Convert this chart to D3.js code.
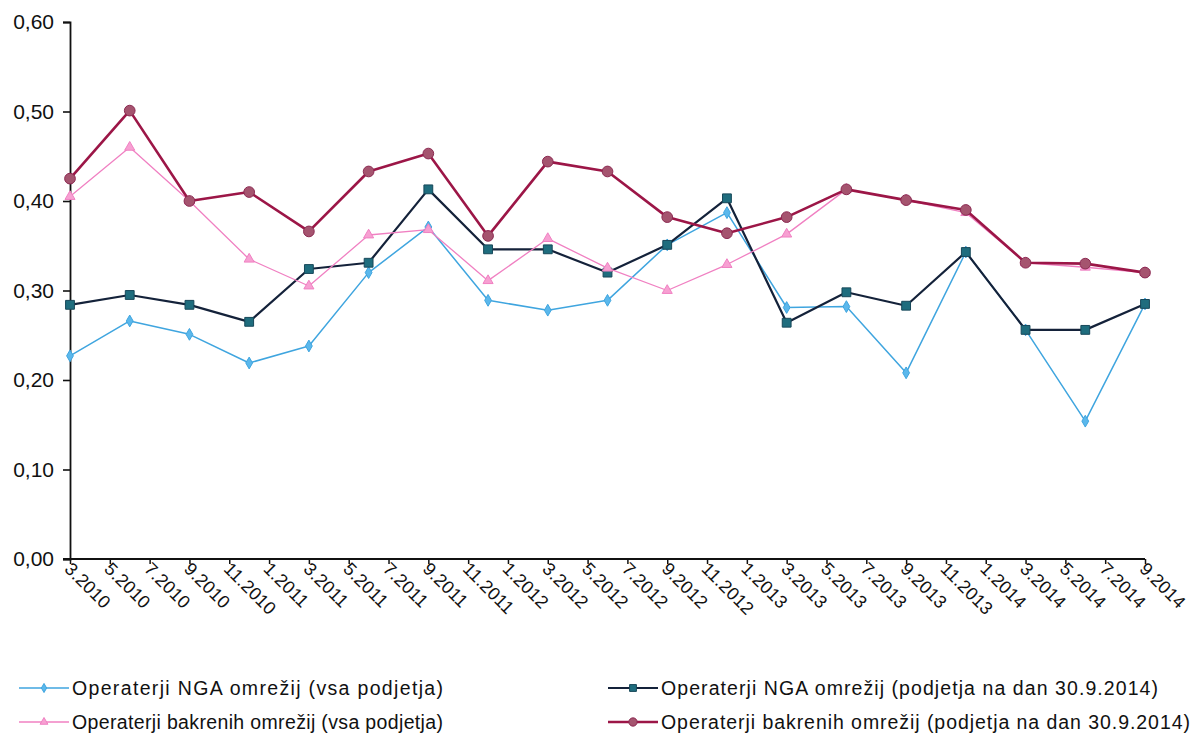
<!DOCTYPE html>
<html>
<head>
<meta charset="utf-8">
<script src="https://cdn.jsdelivr.net/npm/d3@7/dist/d3.min.js"></script>
<style>
  html, body { margin: 0; padding: 0; background: #fff; }
  svg { display: block; }
  text { font-family: "Liberation Sans", Arial, sans-serif; fill: #111; }
</style>
</head>
<body>
<svg id="chart" width="1194" height="736"></svg>
<script>
// Tick labels on the time axis (every second month)
const tickLabels = [
  "3.2010","5.2010","7.2010","9.2010","11.2010","1.2011","3.2011","5.2011",
  "7.2011","9.2011","11.2011","1.2012","3.2012","5.2012","7.2012","9.2012",
  "11.2012","1.2013","3.2013","5.2013","7.2013","9.2013","11.2013","1.2014",
  "3.2014","5.2014","7.2014","9.2014"
];

// Quarterly observation periods
const periods = [
  "3.2010","6.2010","9.2010","12.2010","3.2011","6.2011","9.2011","12.2011",
  "3.2012","6.2012","9.2012","12.2012","3.2013","6.2013","9.2013","12.2013",
  "3.2014","6.2014","9.2014"
];

// Operaterji NGA omrežij (vsa podjetja)
const ngaAll = [0.227,0.266,0.251,0.219,0.238,0.320,0.371,0.289,0.278,0.289,
                0.351,0.387,0.281,0.282,0.208,0.343,0.256,0.154,0.285];
// Operaterji NGA omrežij (podjetja na dan 30.9.2014)
const ngaCurrent = [0.284,0.295,0.284,0.265,0.324,0.331,0.413,0.346,0.346,0.320,
                    0.351,0.403,0.264,0.298,0.283,0.343,0.256,0.256,0.285];
// Operaterji bakrenih omrežij (vsa podjetja)
const copperAll = [0.405,0.460,0.400,0.335,0.305,0.362,0.368,0.311,0.358,0.325,
                   0.300,0.329,0.363,0.413,0.401,0.387,0.331,0.326,0.320];
// Operaterji bakrenih omrežij (podjetja na dan 30.9.2014)
const copperCurrent = [0.425,0.501,0.400,0.410,0.366,0.433,0.453,0.361,0.444,0.433,
                       0.382,0.364,0.382,0.413,0.401,0.390,0.331,0.330,0.320];

const yTicks = [0, 0.1, 0.2, 0.3, 0.4, 0.5, 0.6];

// months elapsed since 3.2010 for a "m.yyyy" label
const monthIndex = s => {
  const [m, yr] = s.split(".").map(Number);
  return (yr - 2010) * 12 + (m - 3);
};

const svg = d3.select("#chart");
const plotLeft = 70, plotRight = 1145, plotTop = 22, plotBottom = 559;

const x = d3.scaleLinear().domain([0, monthIndex("9.2014")]).range([plotLeft, plotRight]);
const y = d3.scaleLinear().domain([0, 0.6]).range([plotBottom, plotTop]);

const fmt = v => d3.format(".2f")(v).replace(".", ",");

// Y axis
const yAxis = svg.append("g")
  .attr("transform", `translate(${plotLeft},0)`)
  .call(d3.axisLeft(y).tickValues(yTicks).tickFormat(fmt).tickSize(7).tickPadding(9));
yAxis.select(".domain").attr("stroke", "#111").attr("stroke-width", 1.8);
yAxis.selectAll(".tick line").attr("stroke", "#111").attr("stroke-width", 1.6);
yAxis.selectAll(".tick text")
  .style("font-size", "21px")
  .attr("fill", "#111");

// X axis
const xAxis = svg.append("g")
  .attr("transform", `translate(0,${plotBottom})`)
  .call(d3.axisBottom(x)
    .tickValues(tickLabels.map(monthIndex))
    .tickFormat((d, i) => tickLabels[i])
    .tickSizeInner(5).tickSizeOuter(0));
xAxis.select(".domain").attr("stroke", "#111").attr("stroke-width", 1.8)
  .attr("d", `M${plotLeft - 7},0H${plotRight}`);
xAxis.selectAll(".tick line").attr("stroke", "#111").attr("stroke-width", 1.5);
xAxis.selectAll(".tick text")
  .style("font-size", "18px").style("letter-spacing", "0.2px")
  .attr("text-anchor", "start")
  .attr("x", 0).attr("y", 0).attr("dy", 0)
  .attr("transform", "translate(-7,11) rotate(45)");

// Series definitions
const series = [
  { name: "Operaterji NGA omrežij  (vsa podjetja)", values: ngaAll,
    line: "#3fa5df", lw: 1.5, fill: "#5bb8ec", stroke: "#3fa5df", shape: d3.symbolDiamond, size: 40 },
  { name: "Operaterji NGA omrežij  (podjetja na dan 30.9.2014)", values: ngaCurrent,
    line: "#14223a", lw: 2.2, fill: "#1f6d7e", stroke: "#17485a", shape: d3.symbolSquare, size: 78 },
  { name: "Operaterji bakrenih omrežij  (vsa podjetja)", values: copperAll,
    line: "#f080c2", lw: 1.3, fill: "#f7a0d2", stroke: "#f080c2", shape: d3.symbolTriangle, size: 44 },
  { name: "Operaterji bakrenih omrežij  (podjetja na dan 30.9.2014)", values: copperCurrent,
    line: "#9c1647", lw: 2.6, fill: "#a5546f", stroke: "#8c2a52", shape: d3.symbolCircle, size: 90 }
];

const line = d3.line()
  .x((d, i) => x(monthIndex(periods[i])))
  .y(d => y(d));

series.forEach(s => {
  const g = svg.append("g");
  g.append("path")
    .attr("d", line(s.values))
    .attr("fill", "none")
    .attr("stroke", s.line)
    .attr("stroke-width", s.lw)
    .attr("stroke-linejoin", "round");
  g.selectAll("path.pt")
    .data(s.values)
    .join("path")
    .attr("class", "pt")
    .attr("transform", (d, i) => `translate(${x(monthIndex(periods[i]))},${y(d)})`)
    .attr("d", d3.symbol().type(s.shape).size(s.size))
    .attr("fill", s.fill)
    .attr("stroke", s.stroke)
    .attr("stroke-width", 1);
});

// Legend (two columns, two rows)
const legendPos = [
  { x: 19, y: 688, textEnd: 443 },
  { x: 608, y: 688, textEnd: 1158 },
  { x: 19, y: 722, textEnd: 443 },
  { x: 608, y: 722, textEnd: 1190 }
];
series.forEach((s, i) => {
  const p = legendPos[i];
  const g = svg.append("g").attr("transform", `translate(${p.x},${p.y})`);
  g.append("line").attr("x1", 0).attr("x2", 50).attr("y1", 0).attr("y2", 0)
    .attr("stroke", s.line).attr("stroke-width", s.lw);
  g.append("path").attr("transform", "translate(25,0)")
    .attr("d", d3.symbol().type(s.shape).size(s.size * 0.6))
    .attr("fill", s.fill).attr("stroke", s.stroke).attr("stroke-width", 1);
  const tx = 53;
  g.append("text")
    .attr("x", tx).attr("y", 0).attr("dy", "0.36em")
    .style("font-size", "19.5px")
    .attr("textLength", p.textEnd - p.x - tx)
    .attr("lengthAdjust", "spacing")
    .text(s.name);
});
</script>
</body>
</html>
